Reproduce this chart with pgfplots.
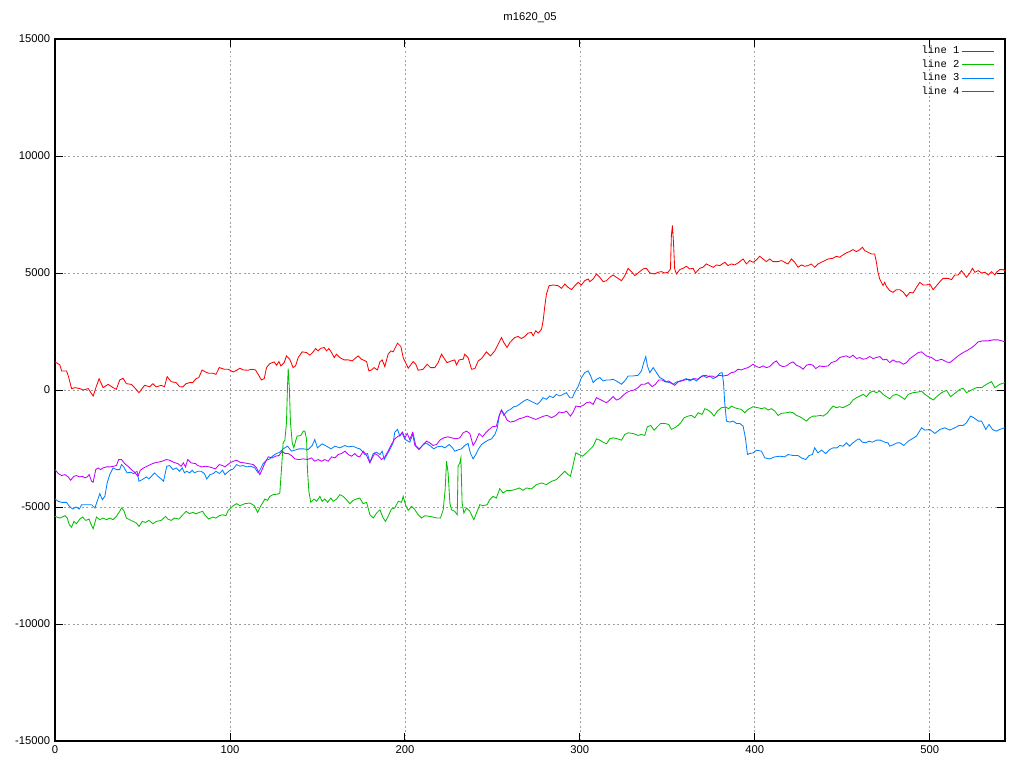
\documentclass[border=0pt]{standalone}
\usepackage{fontspec}
\setmainfont{Liberation Sans}
\newfontfamily\legendfont{Liberation Mono}
\usepackage{pgfplots}
\pgfplotsset{compat=1.18}
\definecolor{gpred}{HTML}{FF0000}
\definecolor{gpgreen}{HTML}{00C000}
\definecolor{gpblue}{HTML}{0080FF}
\definecolor{gppurple}{HTML}{C000FF}
\begin{document}
\begin{tikzpicture}
\begin{axis}[
  scale only axis, width=23.75cm, height=17.55cm,
  xmin=0, xmax=543, ymin=-15000, ymax=15000,
  xtick={0,100,...,500}, ytick={-15000,-10000,...,15000},
  scaled ticks=false,
  /pgf/number format/assume math mode=true,
  /pgf/number format/1000 sep={},
  tick label style={font=\fontsize{8}{9}\selectfont},
  major tick length=2mm,
  tick style={black, line width=0.6pt},
  axis line style={line width=0.8pt},
  grid=major,
  grid style={gray!75, line width=0.5pt, dash pattern=on 1.2pt off 2pt},
  title={m1620\_05},
  title style={font=\fontsize{8}{9}\selectfont, at={(0.5,1)}, anchor=center, yshift=3.1mm},
  legend cell align=right, legend plot pos=right,
  legend style={draw=none, fill=none, at={(0.9895,0.992)}, anchor=north east,
    inner sep=0pt, font=\legendfont\fontsize{7.5}{8}\selectfont,
    nodes={text height=1.8mm, text depth=0.5mm, inner sep=0.4mm}, row sep=0.3mm},
  legend image code/.code={\draw[#1] (0mm,0mm) -- (8.2mm,0mm);},
  every axis plot/.append style={line width=0.6pt},
]
\addplot[gpred] coordinates {(0,1200) (2.8,1070) (3.8,815) (6.6,815) (7.6,600) (9.5,57) (11.4,100) (14.2,60) (16.1,0) (19,60) (21.8,-257) (23.7,170) (25.2,485) (27.5,100) (30.4,243) (33.2,100) (35.1,30) (37,430) (38.9,500) (40.8,270) (43.6,240) (45.5,100) (48,-115) (51.2,200) (54.1,140) (56,270) (57.9,130) (60.7,200) (62.6,140) (64.1,570) (66.4,357) (69.3,315) (71.2,140) (73.1,130) (74.9,270) (76.9,315) (78.7,315) (80.6,486) (82.2,530) (84.1,857) (86,770) (87.9,715) (90.1,715) (92,670) (93.9,957) (96.8,885)
(99,886) (101.9,770) (103.8,843) (105.7,930) (107.6,857) (110.4,843) (112.3,886) (114.6,857) (116.1,670) (118,430) (119.6,485) (120.9,957) (122.8,1130) (125.3,1200) (126.6,1057) (128,1215) (129.1,1030) (131,1170) (132.3,1458) (134.2,1315) (136.1,957) (137.5,1030) (139,1386) (141.3,1630) (143.8,1600) (145.7,1486) (147.6,1630) (148.9,1772) (150.4,1672) (152,1786) (153.9,1815) (155.2,1672) (156.5,1772) (158.1,1600) (159.6,1386) (160.9,1530) (162.8,1386) (165.3,1286) (167.6,1286) (169.9,1243) (171.4,1343) (173.3,1458) (175.2,1315) (178.1,1215) (179.4,815) (180.9,857) (182.4,957) (184.3,857) (185.7,1200) (187,1286) (188.5,1000) (190.4,1530) (192,1672) (193.3,1630) (195.8,2000) (197.7,1858) (199,1386)
(200.5,1150) (201.9,930) (204.7,1215) (206.2,1100) (207.6,843) (210.4,886) (212.7,1100) (214.6,957) (217.1,957) (219,1170) (220.9,1530) (222.8,1315) (224.1,1170) (226.6,1243) (228.5,1286) (229.5,1072) (231,1286) (233.3,1315) (234.2,1530) (236.1,1386) (238.1,886) (240,915) (241.9,1243) (243.8,1343) (246.6,1630) (248.9,1458) (251.4,1672) (253.3,1958) (255.2,2243) (256.5,2030) (258.4,1815) (260,2030) (262.8,2243) (264.7,2286) (266.6,2200) (268.5,2286) (270.4,2430) (272.3,2458) (273.3,2315) (274.8,2529) (276.2,2430) (278.1,2600) (279,2958) (280,3600) (280.9,4100) (282.4,4458) (284.7,4487) (287.6,4458) (289.5,4344) (291.4,4530) (293.3,4387) (295.2,4287)
(297.1,4458) (299,4600) (300.9,4487) (302.8,4672) (304.7,4744) (305.7,4630) (307.6,4744) (309.5,4958) (311.4,4815) (313.3,4630) (315.2,4672) (317.1,4815) (319,4915) (320.9,4815) (323.8,4672) (325.7,4887) (327.6,5200) (329.5,5058) (331.4,4887) (334.2,5058) (336.1,5172) (338,5200) (340,5000) (342.8,4958) (344.7,5030) (346.6,5058) (348.5,5000) (350.4,5030) (351.8,5172) (352.3,6600) (352.9,7030) (353.5,6316) (354.2,5172) (355.2,4958) (357.1,5144) (359,5200) (360.9,5287) (362.8,5172) (364.7,5200) (366.1,5000) (368.5,5200) (370.4,5244) (372.3,5387) (374.2,5315) (376.2,5244) (378.1,5344) (380,5315) (382.8,5458) (384.7,5315) (386.6,5387) (388.5,5344) (390.4,5430) (393.3,5600) (395.2,5387)
(397.1,5530) (399,5458) (400.9,5558) (402.8,5715) (404.7,5600) (406.6,5487) (408.5,5600) (410.4,5487) (413.3,5487) (415.2,5530) (417.1,5458) (419,5387) (420.9,5600) (422.8,5458) (424.7,5244) (426.6,5344) (428.5,5287) (430.4,5315) (432.3,5387) (434.2,5244) (436.1,5387) (438.1,5458) (440,5530) (441.9,5600) (444.7,5630) (446.6,5715) (448.5,5672) (450.4,5772) (452.3,5858) (454.2,5915) (456.1,6000) (458.1,5915) (460,6000) (461.5,6100) (462.8,5958) (464.7,5887) (466.6,5815) (468.5,5815) (469.5,5458) (470.4,5030) (471.4,4744) (473.3,4458) (474.2,4600) (475.2,4430) (477.1,4244) (479,4172) (480.9,4287) (482.8,4287)
(484.8,4187) (486.7,4000) (488.6,4172) (490.5,4144) (492.4,4387) (494.3,4600) (496.2,4487) (498.1,4487) (500,4530) (501.9,4287) (503.9,4458) (505.8,4630) (507.7,4772) (510.5,4772) (512.4,4715) (514.3,4915) (516.2,4915) (518.1,5100) (520,4915) (521,4815) (522.9,5000) (524.4,5200) (525.8,5030) (527.7,5100) (529.6,5000) (531.5,5030) (533.4,4915) (535.3,5058) (537.2,4915) (538.1,5030) (540,5144) (541.9,5144) (542.9,5100)};
\addlegendentry{line 1}
\addplot[gpgreen] coordinates {(0,-5401) (2.8,-5473) (5.7,-5373) (7,-5473) (8.2,-5759) (9.5,-5859) (10.8,-5616) (12.3,-5716) (14.2,-5516) (15.7,-5430) (17.6,-5573) (19.5,-5516) (20.3,-5687) (21.8,-5930) (23.7,-5430) (25.6,-5544) (27.5,-5473) (29.4,-5544) (31.3,-5473) (33.2,-5544) (35.1,-5401) (37,-5187) (38,-5044) (39.3,-5144) (40.8,-5473) (42.7,-5544) (44.6,-5616) (46.5,-5687) (48,-5830) (49.9,-5616) (51.8,-5659) (53.7,-5573) (56,-5716) (57.9,-5616) (60.7,-5573) (63.2,-5401) (64.5,-5516) (66.4,-5573) (68.3,-5473) (70.8,-5516) (73.1,-5330) (75,-5187) (76.9,-5287) (78.7,-5230) (80.6,-5287) (82.5,-5230) (84.4,-5187) (86,-5373) (87.9,-5516) (90.1,-5430) (92,-5473) (93.9,-5373) (95.8,-5330) (97.7,-5373)
(99,-5144) (101.9,-4944) (103.8,-4858) (105.7,-4944) (108.5,-4858) (111.4,-4830) (113.9,-4944) (115.8,-5230) (117.7,-4944) (120,-4658) (121.5,-4716) (122.8,-4544) (124.7,-4473) (127.6,-4444) (128.5,-4401) (129.5,-3330) (130.4,-2258) (131.4,-2144) (132.3,-1400) (132.9,171) (133.3,915) (133.9,171) (134.6,-1400) (135.6,-2258) (136.5,-2472) (137.5,-2186) (138.4,-1972) (140.5,-1943) (141.9,-1758) (142.8,-1758) (143.8,-2115) (144.3,-3401) (145.1,-4330) (146.2,-4801) (148.1,-4658) (149.5,-4758) (151.4,-4544) (152.7,-4758) (154.2,-4658) (155.8,-4801) (157.7,-4616) (159,-4758) (161,-4658) (162.8,-4473) (164.7,-4544) (166.6,-4687) (168.5,-4858) (170.4,-4716) (172.3,-4658) (174.2,-4616) (176.1,-4858) (178.1,-4801) (180,-5330) (181.9,-5473) (183.8,-5258) (185.7,-5116) (187.6,-5473) (188.9,-5616) (190.4,-5401) (192.3,-5087) (194.2,-5044) (196.2,-4758) (198.1,-4801)
(199,-4544) (200.5,-4944) (201.9,-5144) (203.8,-4973) (205.7,-5116) (207.6,-5330) (209.5,-5473) (211.4,-5373) (214.2,-5401) (216.1,-5430) (218.1,-5473) (220.3,-5473) (221.9,-5116) (223,-4258) (223.8,-3044) (224.7,-3544) (225.7,-4830) (226.6,-5116) (228.5,-5187) (229.9,-5330) (230.4,-3258) (231.4,-3115) (232,-2901) (232.7,-4830) (233.7,-5258) (235.2,-5044) (237.1,-5187) (239.4,-5544) (240.9,-5258) (242.8,-4901) (244.7,-4944) (247,-4901) (248.5,-4687) (250.4,-4544) (252.3,-4616) (254.2,-4215) (256.1,-4401) (258.1,-4301) (260,-4301) (262.8,-4258) (265.3,-4186) (267.6,-4287) (269.5,-4186) (272.3,-4230) (275.2,-4044) (278.1,-3972) (280.9,-4044) (283.8,-3901) (286.6,-3830) (289.5,-3615) (291.4,-3472) (293.3,-3615) (294.6,-3687) (296.2,-3186)
(297.7,-2687) (299.6,-2758) (301.5,-2830) (303.8,-2687) (305.7,-2544) (307.6,-2401) (309.5,-2086) (311.4,-2144) (313.3,-2230) (315.2,-2301) (317.1,-2086) (319,-2044) (321.5,-2086) (323.8,-2144) (325.7,-1900) (327.6,-1829) (330.4,-1858) (333.3,-1943) (335.2,-1900) (337.1,-1943) (338.6,-1572) (340.5,-1515) (342.4,-1715) (344.3,-1572) (346.2,-1429) (348.5,-1429) (350.8,-1472) (352.3,-1686) (354.2,-1615) (356.1,-1515) (357.7,-1400) (359.6,-1186) (361.9,-1115) (363.8,-1086) (365.7,-1186) (367.6,-972) (369.9,-1043) (371.4,-800) (373.3,-857) (375.2,-972) (376.7,-1115) (378.6,-900) (380.9,-757) (383.2,-729) (385.1,-800) (386.6,-686) (388.5,-757) (390.4,-800) (392.3,-829) (394.2,-972) (396.2,-829)
(399,-715) (401.9,-757) (403.8,-800) (405.7,-757) (407.6,-857) (409.5,-800) (411.4,-900) (413.3,-1086) (415.2,-1000) (418.1,-972) (420,-943) (421.9,-972) (423.8,-1086) (425.7,-1143) (427.6,-1229) (429.5,-1329) (431.4,-1186) (433.3,-1115) (435.2,-1115) (437.5,-1086) (439,-1115) (441.3,-1000) (442.8,-857) (444.7,-686) (446.6,-757) (448.5,-715) (450.4,-757) (452.3,-686) (454.2,-614) (456.1,-429) (458.1,-329) (460,-257) (461.9,-186) (463.8,-286) (465.7,-114) (467.6,-43) (469.5,-114) (471.4,-43) (473.3,-186) (475.2,-286) (477.1,-372) (479,-229) (480.9,-186)
(482.9,-257) (485.7,-400) (487.7,-186) (490.5,-114) (493.4,-86) (495.3,-43) (497.2,-186) (500,-329) (501.9,-429) (504.8,-229) (506.7,-114) (509.6,-14) (511.9,-286) (514.3,-143) (517.2,29) (519.1,71) (521,-114) (523.8,0) (526.7,100) (529.6,100) (532.4,243) (535.3,357) (537.2,100) (540,243) (542.9,314)};
\addlegendentry{line 2}
\addplot[gpblue] coordinates {(0,-4658) (1.9,-4758) (3.8,-4801) (6.6,-4801) (8.2,-4973) (10.1,-5087) (12,-5001) (13.9,-5087) (15.2,-4901) (18,-4901) (20.9,-4901) (22.8,-5044) (24.1,-4758) (25.6,-4430) (27.1,-4687) (28.5,-4544) (29.8,-3973) (31.3,-3615) (33.2,-3329) (35.1,-3401) (37,-3401) (38,-3186) (39.3,-3287) (41.2,-3543) (43.1,-3515) (45,-3572) (46.9,-3472) (48,-3901) (49.9,-3830) (52.2,-3715) (53.7,-3801) (56,-3615) (56.9,-3543) (58.8,-3687) (60.7,-3801) (62,-3901) (63.9,-3258) (65.5,-3230) (67.4,-3401) (69.3,-3329) (71.2,-3472) (72.7,-3329) (74,-3543) (75.3,-3472) (76.9,-3543) (78.4,-3429) (79.7,-3543) (81.6,-3472) (83.5,-3472) (85.4,-3572) (86.7,-3801) (88.6,-3615) (90.5,-3572) (92,-3472) (93.9,-3572) (95.8,-3429)
(97.1,-3615) (100,-3429) (101.9,-3372) (103.8,-3186) (105.7,-3258) (107.6,-3230) (109.5,-3287) (112,-3258) (114.2,-3329) (116.1,-3543) (117.1,-3429) (119,-3143) (120.9,-3001) (122.8,-2944) (124.7,-2801) (126.6,-2715) (128.5,-2658) (130.4,-2515) (132.9,-2401) (135.2,-2615) (137.1,-2572) (139.4,-2515) (141.9,-2515) (144.7,-2544) (147,-2372) (148.5,-2115) (150,-2472) (152.7,-2301) (155.2,-2401) (157.7,-2515) (160,-2401) (162.8,-2472) (165.7,-2372) (167.6,-2429) (170.4,-2401) (172.3,-2472) (174.2,-2515) (175.6,-2615) (177.1,-2758) (178.6,-2715) (180,-3087) (181.9,-2715) (183.8,-2658) (185.7,-2758) (187,-2615) (188.2,-2972) (190.1,-2715) (191.4,-2544) (193.3,-2258) (194.2,-1800) (195.8,-1686) (197.1,-1972) (198.4,-1829) (200,-2115)
(200.9,-2144) (202.8,-2230) (204.7,-1858) (206.2,-2372) (208.1,-2515) (210,-2372) (211.9,-2258) (214.2,-2372) (216.5,-2515) (218.4,-2429) (220.9,-2401) (222.8,-2472) (225.3,-2329) (227.2,-2472) (228.5,-2615) (231,-2544) (232.3,-2515) (234.2,-2372) (236.1,-2286) (237.5,-2715) (239,-2944) (240.5,-2758) (241.9,-2544) (243.8,-2329) (245.7,-2229) (247.6,-2144) (249.5,-2086) (251.4,-1900) (252.7,-1658) (253.9,-1115) (255.2,-857) (256.5,-1086) (258.4,-900) (260.3,-829) (262.2,-715) (264.1,-686) (266.1,-572) (268,-472) (269.9,-400) (271.8,-472) (273.7,-543) (275.6,-614) (277.1,-515) (279,-329) (280.9,-400) (282.8,-257) (284.7,-329) (286.6,-186) (288.5,-257) (290.4,-186) (292.3,-114) (294.2,-329) (295.8,-329)
(297.1,-86) (299,143) (300.9,529) (302.8,743) (304.7,815) (306.2,600) (307.6,314) (309.5,457) (311.4,529) (313.3,386) (315.2,429) (317.1,429) (319,457) (320.9,386) (323.8,243) (325.7,386) (327.6,600) (330.4,600) (333.3,629) (335.2,815) (336.5,1172) (337.7,1429) (338.6,1029) (340,743) (341.9,957) (343.8,743) (345.7,529) (347.6,457) (349.5,343) (351.4,314) (353.3,243) (355.2,343) (357.1,386) (359,429) (360.9,486) (362.8,386) (364.7,486) (366.6,386) (368.5,529) (370.4,629) (372.3,529) (374.2,600) (376.2,486) (378.1,572) (380,715) (381.3,743) (382.1,314) (382.8,-543) (383.8,-1329) (385.7,-1372) (387.6,-1329) (389.5,-1429) (391.4,-1429) (393.3,-1543) (394.6,-2043) (395.8,-2758)
(397.1,-2715) (399,-2687) (400.9,-2572) (403.8,-2615) (405.7,-2901) (408.5,-2944) (411.4,-2858) (414.3,-2830) (417.1,-2858) (419,-2758) (421.9,-2801) (424.7,-2801) (426.6,-2901) (429.1,-2972) (431,-2801) (432.9,-2758) (434.2,-2472) (436.1,-2687) (438.1,-2572) (440.5,-2715) (442.8,-2544) (444.7,-2472) (447,-2472) (448.5,-2372) (450.4,-2401) (452.3,-2258) (454.2,-2401) (456.1,-2258) (458.1,-2144) (459.6,-2086) (461.5,-2229) (463.4,-2258) (465.3,-2186) (467.2,-2229) (469.5,-2144) (471.8,-2144) (474.2,-2229) (476.1,-2258) (477.1,-2401) (479.4,-2329) (481.3,-2258)
(482.9,-2258) (485.2,-2372) (487.7,-2186) (490.5,-2058) (492.4,-1972) (495.3,-1615) (497.2,-1715) (500,-1686) (502.9,-1858) (505.8,-1686) (508.6,-1615) (511.5,-1715) (514.3,-1615) (516.8,-1515) (519.1,-1515) (521,-1400) (523.3,-1115) (525.2,-1186) (527.7,-1329) (529.6,-1329) (532,-1686) (533.9,-1472) (535.8,-1686) (538.1,-1758) (540,-1686) (542.9,-1615)};
\addlegendentry{line 3}
\addplot[gppurple] coordinates {(0,-3401) (1.9,-3572) (3.8,-3658) (5.7,-3615) (7.6,-3716) (8.9,-3858) (10.8,-3687) (12.3,-3658) (14.2,-3716) (15.7,-3687) (17.1,-3758) (18.4,-3716) (19.5,-3615) (20.9,-3901) (21.8,-3944) (23.3,-3401) (24.7,-3329) (26,-3401) (27.5,-3329) (29.4,-3287) (31.3,-3287) (33.6,-3258) (35.1,-3230) (36.4,-2972) (38,-2972) (39.8,-3144) (41.7,-3258) (43.6,-3401) (45.5,-3515) (47.4,-3687) (48.8,-3429) (50.7,-3329) (52.6,-3258) (54.5,-3186) (56.9,-3115) (58.8,-3087) (61.3,-3044) (63.6,-2972) (65.5,-3001) (67.7,-3087) (70.2,-3144) (72.1,-3258) (73.4,-3115) (74.6,-3287) (75.9,-2972) (77.8,-3115) (80.3,-3144) (81.6,-3230) (84.1,-3287) (86.3,-3258) (88.2,-3287) (90.1,-3329) (91.7,-3372) (93.9,-3186) (95.8,-3230)
(97.1,-3287) (100,-3115) (101.9,-3044) (103.8,-3001) (105.7,-3087) (108.2,-3115) (110.4,-3144) (113.3,-3186) (115.2,-3329) (117.1,-3615) (118.4,-3401) (120,-3115) (121.9,-2858) (124.2,-2901) (126.1,-2829) (128,-2801) (129.9,-2615) (131.4,-2715) (133.3,-2715) (135.2,-2801) (137.1,-2944) (139.4,-2972) (141.9,-2944) (144.3,-2972) (146.6,-2901) (148.5,-3044) (150.4,-2972) (152.4,-3044) (154.2,-2972) (156.2,-3044) (158.1,-2858) (160,-2901) (161.9,-2758) (163.8,-2715) (165.7,-2615) (167.6,-2758) (169.5,-2829) (171.4,-2715) (172.9,-2829) (174.2,-2858) (176.2,-2615) (178.1,-2801) (180,-3115) (181.3,-2901) (182.8,-2715) (184.7,-2801) (186.6,-2972) (188.5,-2858) (190.4,-2615) (192.3,-2329) (194.2,-2086) (196.2,-1972)
(197.1,-1943) (198.6,-1800) (200,-2043) (201.3,-1858) (202.8,-2115) (204.3,-1829) (205.7,-2372) (208.1,-2544) (210,-2372) (212.3,-2186) (214.2,-2258) (216.1,-2372) (218.1,-2329) (220,-2144) (222.2,-2043) (224.7,-2001) (226.6,-2043) (229.1,-2086) (231.4,-2043) (233.3,-1829) (235.2,-1758) (237.1,-1858) (239,-2372) (240.5,-2186) (242.4,-1858) (244.3,-2001) (246.2,-1829) (248.1,-1686) (250,-1572) (252.3,-1543) (253.9,-1086) (255.2,-857) (256.5,-1000) (258.4,-1286) (260.3,-1372) (262.8,-1329) (265.3,-1229) (267.6,-1186) (269.9,-1115) (272.3,-1186) (274.8,-1257) (277.1,-1186) (279.4,-1115) (281.3,-1086) (283.8,-1186) (286.3,-1086) (288.2,-943) (290.5,-972) (292.3,-900) (294.6,-1115) (296.2,-943)
(297.7,-686) (300,-715) (301.9,-657) (303.8,-543) (305.7,-515) (307.6,-614) (309.5,-329) (311.4,-400) (313.3,-472) (315.2,-543) (317.1,-429) (319,-286) (320.9,-429) (322.8,-372) (324.7,-229) (326.6,-114) (328.5,-43) (331,0) (333.3,100) (335.2,243) (337.1,243) (339,314) (341.3,143) (343.2,243) (345.1,429) (347,429) (348.9,343) (350.8,386) (352.7,286) (354.2,200) (356.1,343) (358.1,386) (360,429) (361.9,457) (363.8,429) (365.7,486) (367.6,457) (369.5,572) (371.8,629) (373.7,572) (375.6,600) (377.5,529) (379.4,629) (381.9,600) (384.3,629) (386.6,743) (388.5,772) (390.4,886) (392.3,857) (394.2,915) (396.2,957)
(399,1100) (400.9,1000) (402.8,957) (404.7,1029) (406.6,957) (408.5,1000) (410.8,1172) (412.3,1243) (414.2,1057) (416.1,1000) (418.1,1029) (420,1143) (421.9,1200) (423.8,1057) (425.7,1000) (427.6,886) (429.5,1057) (431.4,1100) (433.3,1057) (434.8,915) (437.1,1029) (439,1000) (441.9,1029) (443.8,1172) (446.6,1243) (448.5,1386) (450.4,1429) (452.3,1458) (454.2,1386) (456.1,1486) (458.1,1343) (460,1386) (461.9,1315) (463.8,1343) (465.7,1429) (467.6,1343) (469.5,1386) (471.4,1429) (473.3,1286) (475.2,1315) (477.1,1172) (479,1286) (480.9,1200)
(482.9,1200) (484.8,1100) (486.7,1172) (488.6,1343) (491.4,1486) (493.4,1600) (495.3,1629) (498.1,1458) (501,1386) (503.8,1243) (506.7,1315) (509.6,1200) (511.5,1172) (513.4,1286) (516.2,1458) (519.1,1600) (522,1715) (524,1815) (525.8,1915) (527.7,2058) (530.5,2101) (533.4,2101) (536.2,2143) (539.1,2143) (541,2101) (542.9,2058)};
\addlegendentry{line 4}
\end{axis}
% keep the page the size of the reference frame
\path (current axis.south west) ++(-13.75mm,-6.75mm) rectangle ([xshift=4.75mm,yshift=9.75mm]current axis.north east);
\end{tikzpicture}
\end{document}
